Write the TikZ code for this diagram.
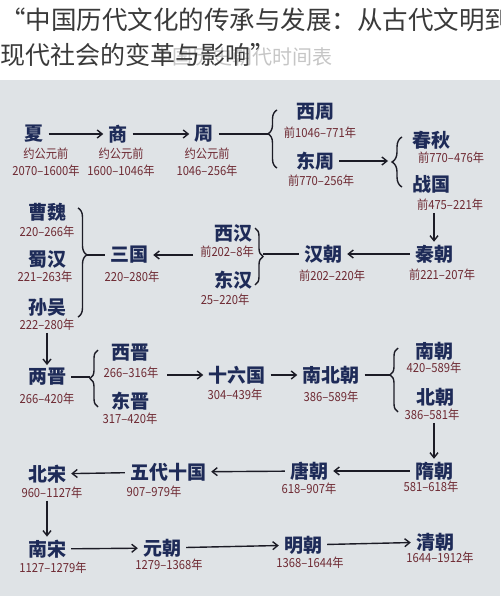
\documentclass[tikz,border=0pt]{standalone}
\usepackage{fontspec}
\setmainfont{Noto Sans CJK SC}
\newfontfamily\yearfont{Noto Sans CJK SC}[FakeStretch=0.9]
\usetikzlibrary{arrows.meta,positioning,decorations.pathreplacing}

\definecolor{chartbg}{HTML}{DFE3E6}
\definecolor{inkblue}{HTML}{1E2B58}
\definecolor{inkred}{HTML}{6E2A33}
\definecolor{inkline}{HTML}{1C1C26}
\definecolor{titlegray}{HTML}{3A3A3A}

\begin{document}
\begin{tikzpicture}[x=1pt, y=-1pt, >={Straight Barb[length=5pt,width=8pt]},
  dyn/.style={inner xsep=5pt, inner ysep=3pt, text=inkblue, font=\fontsize{19}{20}\selectfont\bfseries},
  years/.style={inner sep=2pt, text=inkred, align=center, font=\yearfont\fontsize{12.5}{16.5}\selectfont},
  link/.style={draw=inkline, line width=1.4pt},
  curly/.style={draw=inkline, line width=1.4pt, decorate, decoration={brace, amplitude=#1}}]
\useasboundingbox (0,0) rectangle (500,596);
\clip (0,0) rectangle (500,596);
\fill[white] (0,0) rectangle (500,80);
\fill[chartbg] (0,80) rectangle (500,596);

% title
\node[text=gray!45, font=\fontsize{20}{20}\selectfont] (sub) at (242,57) {中国历史朝代时间表};
\node[anchor=west, inner sep=0pt, text=titlegray, font=\fontsize{25.5}{26}\selectfont] (title) at (0,20) {“中国历代文化的传承与发展：从古代文明到};
\node[anchor=west, inner sep=0pt, text=titlegray, font=\fontsize{25}{26}\selectfont] (title2) at (0,55) {现代社会的变革与影响”};

% xia shang zhou
\node[dyn] (xia) at (34,134) {夏};
\node[years] (xiay) at (46,162) {约公元前\\2070–1600年};
\node[dyn] (shang) at (118,134) {商};
\node[years] (shangy) at (121,162) {约公元前\\1600–1046年};
\node[dyn] (zhou) at (204,134) {周};
\node[years] (zhouy) at (207,162) {约公元前\\1046–256年};
\draw[link,->] (xia) -- (shang);
\draw[link,->] (shang) -- (zhou);
\draw[curly=9pt, decoration={aspect=0.59}] (277,168) -- (277,110);
\coordinate (b1) at (268,134);
\draw[link] (zhou) -- (b1);

\node[dyn] (xizhou) at (315,112) {西周};
\node[years] (xizhouy) at (320,133) {前1046–771年};
\node[dyn] (dongzhou) at (315,161) {东周};
\node[years] (dongzhouy) at (321,181) {前770–256年};
\draw[curly=10pt] (402,187) -- (402,137);
\coordinate (b2) at (392,161);
\draw[link,->, shorten >=4pt] (dongzhou) -- (b2);
\node[dyn] (chunqiu) at (431,140) {春秋};
\node[years] (chunqiuy) at (451,158) {前770–476年};
\node[dyn] (zhanguo) at (431,184) {战国};
\node[years] (zhanguoy) at (450,205) {前475–221年};

% qin han sanguo
\node[dyn] (qin) at (434,254) {秦朝};
\node[years] (qiny) at (442,275) {前221–207年};
\draw[link,->] (zhanguoy.south -| qin) -- (qin);
\node[dyn] (han) at (323,254) {汉朝};
\node[years] (hany) at (332,276) {前202–220年};
\draw[link,->] (qin) -- (han);
\draw[curly=8pt] (255,228) -- (255,285);
\coordinate (b3) at (263,254);
\draw[link] (han) -- (b3);
\node[dyn] (xihan) at (233,233) {西汉};
\node[years] (xihany) at (227,252) {前202–8年};
\node[dyn] (donghan) at (233,280) {东汉};
\node[years] (donghany) at (225,300) {25–220年};
\node[dyn] (sanguo) at (129,255) {三国};
\node[years] (sanguoy) at (132,277) {220–280年};
\coordinate (hanl) at (193,255);
\draw[link,->] (hanl) -- (sanguo);
\draw[curly=9pt, decoration={aspect=0.43}] (78,208) -- (78,317);
\coordinate (b4) at (87,255);
\draw[link] (sanguo) -- (b4);
\node[dyn] (caowei) at (47,212) {曹魏};
\node[years] (caoweiy) at (47,232) {220–266年};
\node[dyn] (shuhan) at (47,259) {蜀汉};
\node[years] (shuhany) at (45,277) {221–263年};
\node[dyn] (sunwu) at (47,307) {孙吴};
\node[years] (sunwuy) at (47,325) {222–280年};

% jin and nanbeichao
\node[dyn] (liangjin) at (47,377) {两晋};
\node[years] (liangjiny) at (47,399) {266–420年};
\draw[link,->] (sunwuy.south -| liangjin) -- (liangjin);
\draw[curly=8pt] (98,407) -- (98,350);
\coordinate (b5) at (90,377);
\draw[link] (liangjin) -- (b5);
\node[dyn] (xijin) at (130,353) {西晋};
\node[years] (xijiny) at (131,373) {266–316年};
\node[dyn] (dongjin) at (130,401) {东晋};
\node[years] (dongjiny) at (130,419) {317–420年};
\node[dyn] (shiliu) at (237,375) {十六国};
\node[years] (shiliuy) at (235,395) {304–439年};
\coordinate (jinr) at (167,375);
\draw[link,->] (jinr) -- (shiliu);
\node[dyn] (nanbei) at (331,375) {南北朝};
\node[years] (nanbeiy) at (331,397) {386–589年};
\draw[link,->] (shiliu) -- (nanbei);
\draw[curly=8pt, decoration={aspect=0.58}] (398,412) -- (398,348);
\coordinate (b6) at (390,375);
\draw[link] (nanbei) -- (b6);
\node[dyn] (nanchao) at (434,351) {南朝};
\node[years] (nanchaoy) at (434,368) {420–589年};
\node[dyn] (beichao) at (435,397) {北朝};
\node[years] (beichaoy) at (432,415) {386–581年};

% sui to qing
\node[dyn] (sui) at (434,471) {隋朝};
\node[years] (suiy) at (431,487) {581–618年};
\draw[link,->] (beichaoy.south -| sui) -- (sui);
\node[dyn] (tang) at (309,471) {唐朝};
\node[years] (tangy) at (309,489) {618–907年};
\draw[link,->] (sui) -- (tang);
\node[dyn] (wudai) at (168,472) {五代十国};
\node[years] (wudaiy) at (154,492) {907–979年};
\draw[link,->] (tang) -- (wudai);
\node[dyn] (beisong) at (47,474) {北宋};
\node[years] (beisongy) at (52,493) {960–1127年};
\draw[link,->] (wudai) -- (beisong);
\node[dyn] (nansong) at (47,549) {南宋};
\node[years] (nansongy) at (53,568) {1127–1279年};
\draw[link,->] (beisongy.south -| nansong) -- (nansong);
\node[dyn] (yuan) at (162,548) {元朝};
\node[years] (yuany) at (169,565) {1279–1368年};
\draw[link,->] (nansong) -- (yuan);
\node[dyn] (ming) at (303,545) {明朝};
\node[years] (mingy) at (310,563) {1368–1644年};
\draw[link,->] (yuan) -- (ming);
\node[dyn] (qing) at (435,542) {清朝};
\node[years] (qingy) at (440,558) {1644–1912年};
\draw[link,->] (ming) -- (qing);
\end{tikzpicture}
\end{document}
